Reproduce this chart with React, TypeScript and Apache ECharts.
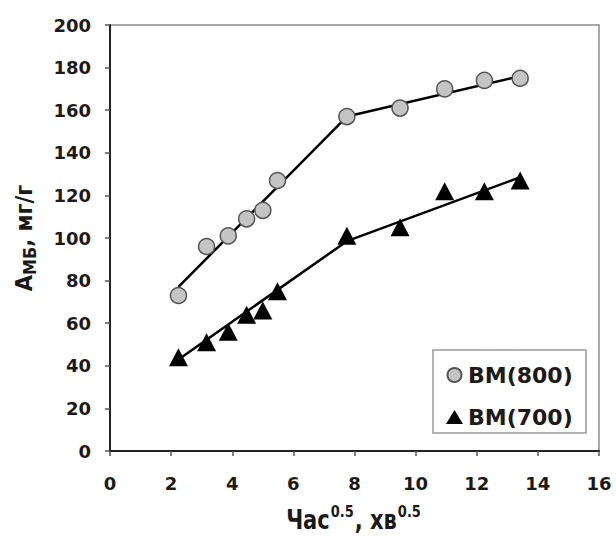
import React, { useEffect, useRef } from "react";
import * as echarts from "echarts";

const xValues = [2.24, 3.16, 3.87, 4.47, 5.0, 5.48, 7.75, 9.49, 10.95, 12.25, 13.42];
const bm800 = [73, 96, 101, 109, 113, 127, 157, 161, 170, 174, 175];
const bm700 = [44, 51, 56, 64, 66, 75, 101, 105, 122, 122, 127];
const fitX = [2.24, 7.75, 13.42];
const fit800 = [77, 157, 176];
const fit700 = [43, 98.5, 128.5];
const seriesNames = ["BM(800)", "BM(700)"];

const FONT = "DejaVu Sans";

export default function App() {
  const ref = useRef<HTMLDivElement>(null);
  useEffect(() => {
    if (!ref.current) return;
    const chart = echarts.init(ref.current, null, { renderer: "svg" });
    const pairs = (xs: number[], ys: number[]) => xs.map((x, i) => [x, ys[i]]);
    chart.setOption({
      animation: false,
      backgroundColor: "#fff",
      grid: {
        left: 110,
        right: 17,
        top: 25,
        bottom: 88,
        show: true,
        borderColor: "#8a8a8a",
        borderWidth: 1.5,
        backgroundColor: "transparent",
      },
      xAxis: {
        type: "value",
        min: 0,
        max: 16,
        interval: 2,
        splitLine: { show: false },
        axisLine: { lineStyle: { color: "#222", width: 2 } },
        axisTick: { inside: false, length: 5, lineStyle: { color: "#555", width: 1.5 } },
        axisLabel: { fontFamily: FONT, fontWeight: "bold", fontSize: 18, color: "#1a1a1a", margin: 23 },
      },
      yAxis: {
        type: "value",
        min: 0,
        max: 200,
        interval: 20,
        splitLine: { show: false },
        axisLine: { show: true, lineStyle: { color: "#222", width: 2 } },
        axisTick: { show: true, inside: false, length: 5, lineStyle: { color: "#555", width: 1.5 } },
        axisLabel: { fontFamily: FONT, fontWeight: "bold", fontSize: 18, color: "#1a1a1a", margin: 19 },
      },
      legend: {
        data: seriesNames,
        orient: "vertical",
        left: 446,
        top: 363,
        itemWidth: 17,
        itemHeight: 14,
        itemGap: 18,
        padding: 0,
        textStyle: { fontFamily: FONT, fontWeight: "bold", fontSize: 22, color: "#1a1a1a", lineHeight: 24 },
      },
      graphic: [
        {
          type: "rect",
          shape: { x: 433, y: 350, width: 153, height: 83 },
          style: { fill: "#fff", stroke: "#999", lineWidth: 1.5 },
          z: 0,
        },
        {
          type: "text",
          x: 24,
          y: 238,
          rotation: Math.PI / 2,
          scaleY: 1.1,
          style: {
            text: "{a|A}{s|МБ}{a|, мг/г}",
            align: "center",
            verticalAlign: "middle",
            fill: "#1a1a1a",
            rich: {
              a: { fontFamily: FONT, fontWeight: "bold", fontSize: 21, lineHeight: 26, fill: "#1a1a1a" },
              s: { fontFamily: FONT, fontWeight: "bold", fontSize: 16, lineHeight: 26, verticalAlign: "bottom", fill: "#1a1a1a" },
            },
          },
        },
        {
          type: "text",
          x: 354,
          y: 520,
          scaleY: 1.25,
          style: {
            text: "{a|Час}{s|0.5}{a|, хв}{s|0.5}",
            align: "center",
            verticalAlign: "middle",
            fill: "#1a1a1a",
            rich: {
              a: { fontFamily: FONT, fontWeight: "bold", fontSize: 21, lineHeight: 22, verticalAlign: "bottom", fill: "#1a1a1a" },
              s: { fontFamily: FONT, fontWeight: "bold", fontSize: 13, lineHeight: 14, padding: [0, 1, 12, 1], verticalAlign: "bottom", fill: "#1a1a1a" },
            },
          },
        },
      ],
      series: [
        {
          name: "fit800",
          type: "line",
          data: pairs(fitX, fit800),
          showSymbol: false,
          symbol: "none",
          lineStyle: { color: "#000", width: 2.5 },
          z: 2,
        },
        {
          name: "fit700",
          type: "line",
          data: pairs(fitX, fit700),
          showSymbol: false,
          symbol: "none",
          lineStyle: { color: "#000", width: 2.5 },
          z: 2,
        },
        {
          name: seriesNames[0],
          type: "scatter",
          data: pairs(xValues, bm800),
          symbol: "circle",
          symbolSize: 16,
          itemStyle: { color: "#c4c4c4", borderColor: "#555", borderWidth: 1.5, opacity: 1 },
          z: 3,
        },
        {
          name: seriesNames[1],
          type: "scatter",
          data: pairs(xValues, bm700),
          symbol: "triangle",
          symbolSize: [19, 18],
          itemStyle: { color: "#000", opacity: 1 },
          z: 3,
        },
      ],
    });
    return () => chart.dispose();
  }, []);
  return <div ref={ref} style={{ width: 616, height: 539, position: "absolute", left: 0, top: 0 }} />;
}
